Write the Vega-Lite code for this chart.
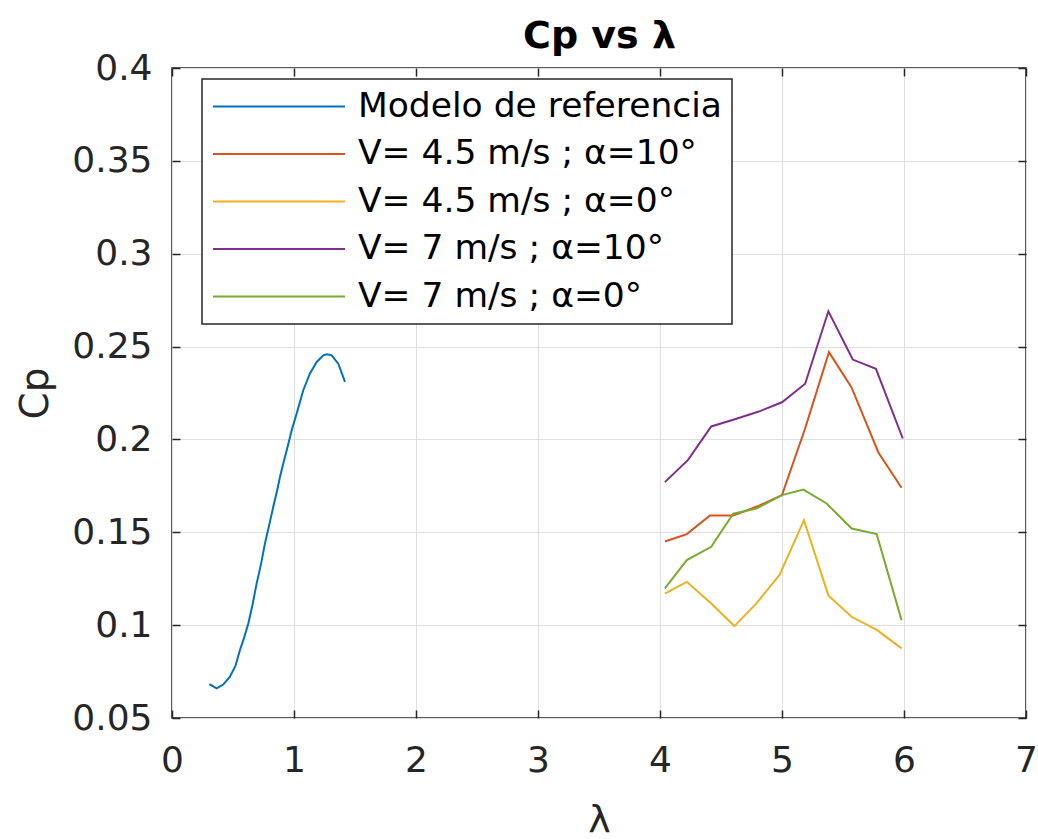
{
  "$schema": "https://vega.github.io/schema/vega-lite/v6.json",
  "autosize": "none",
  "width": 854,
  "height": 650,
  "padding": {"left": 172, "top": 68, "right": 12, "bottom": 121},
  "background": "white",
  "config": {
    "font": "DejaVu Sans",
    "view": {"stroke": "#262626", "strokeWidth": 1.5},
    "legend": {"strokeWidth": 1.5},
    "axis": {
      "domain": false,
      "gridColor": "#dfdfdf",
      "gridWidth": 1,
      "tickColor": "#262626",
      "tickSize": -8,
      "tickWidth": 1.5,
      "labelColor": "#262626",
      "labelFontSize": 36,
      "labelFont": "DejaVu Sans",
      "labelOverlap": false,
      "labelFlush": false,
      "titleColor": "#262626",
      "titleFont": "DejaVu Sans",
      "titleFontWeight": "normal",
      "titleFontSize": 39
    }
  },
  "data": {
    "values": [
      {"lambda": 0.306, "cp": 0.0683, "serie": "Modelo de referencia"},
      {"lambda": 0.366, "cp": 0.066, "serie": "Modelo de referencia"},
      {"lambda": 0.42, "cp": 0.068, "serie": "Modelo de referencia"},
      {"lambda": 0.475, "cp": 0.0722, "serie": "Modelo de referencia"},
      {"lambda": 0.52, "cp": 0.078, "serie": "Modelo de referencia"},
      {"lambda": 0.557, "cp": 0.0866, "serie": "Modelo de referencia"},
      {"lambda": 0.59, "cp": 0.093, "serie": "Modelo de referencia"},
      {"lambda": 0.626, "cp": 0.101, "serie": "Modelo de referencia"},
      {"lambda": 0.66, "cp": 0.111, "serie": "Modelo de referencia"},
      {"lambda": 0.694, "cp": 0.1225, "serie": "Modelo de referencia"},
      {"lambda": 0.73, "cp": 0.133, "serie": "Modelo de referencia"},
      {"lambda": 0.762, "cp": 0.144, "serie": "Modelo de referencia"},
      {"lambda": 0.797, "cp": 0.154, "serie": "Modelo de referencia"},
      {"lambda": 0.83, "cp": 0.1637, "serie": "Modelo de referencia"},
      {"lambda": 0.86, "cp": 0.172, "serie": "Modelo de referencia"},
      {"lambda": 0.885, "cp": 0.1798, "serie": "Modelo de referencia"},
      {"lambda": 0.912, "cp": 0.187, "serie": "Modelo de referencia"},
      {"lambda": 0.94, "cp": 0.194, "serie": "Modelo de referencia"},
      {"lambda": 0.981, "cp": 0.205, "serie": "Modelo de referencia"},
      {"lambda": 1.022, "cp": 0.214, "serie": "Modelo de referencia"},
      {"lambda": 1.076, "cp": 0.2265, "serie": "Modelo de referencia"},
      {"lambda": 1.131, "cp": 0.2355, "serie": "Modelo de referencia"},
      {"lambda": 1.186, "cp": 0.2417, "serie": "Modelo de referencia"},
      {"lambda": 1.24, "cp": 0.2453, "serie": "Modelo de referencia"},
      {"lambda": 1.27, "cp": 0.2458, "serie": "Modelo de referencia"},
      {"lambda": 1.309, "cp": 0.2453, "serie": "Modelo de referencia"},
      {"lambda": 1.363, "cp": 0.2408, "serie": "Modelo de referencia"},
      {"lambda": 1.418, "cp": 0.231, "serie": "Modelo de referencia"},

      {"lambda": 4.04, "cp": 0.145, "serie": "V= 4.5 m/s ; α=10°"},
      {"lambda": 4.22, "cp": 0.149, "serie": "V= 4.5 m/s ; α=10°"},
      {"lambda": 4.41, "cp": 0.159, "serie": "V= 4.5 m/s ; α=10°"},
      {"lambda": 4.6, "cp": 0.159, "serie": "V= 4.5 m/s ; α=10°"},
      {"lambda": 4.8, "cp": 0.164, "serie": "V= 4.5 m/s ; α=10°"},
      {"lambda": 5.0, "cp": 0.17, "serie": "V= 4.5 m/s ; α=10°"},
      {"lambda": 5.19, "cp": 0.206, "serie": "V= 4.5 m/s ; α=10°"},
      {"lambda": 5.385, "cp": 0.247, "serie": "V= 4.5 m/s ; α=10°"},
      {"lambda": 5.57, "cp": 0.228, "serie": "V= 4.5 m/s ; α=10°"},
      {"lambda": 5.79, "cp": 0.193, "serie": "V= 4.5 m/s ; α=10°"},
      {"lambda": 5.98, "cp": 0.174, "serie": "V= 4.5 m/s ; α=10°"},

      {"lambda": 4.04, "cp": 0.117, "serie": "V= 4.5 m/s ; α=0°"},
      {"lambda": 4.22, "cp": 0.1233, "serie": "V= 4.5 m/s ; α=0°"},
      {"lambda": 4.42, "cp": 0.1117, "serie": "V= 4.5 m/s ; α=0°"},
      {"lambda": 4.61, "cp": 0.0995, "serie": "V= 4.5 m/s ; α=0°"},
      {"lambda": 4.79, "cp": 0.1117, "serie": "V= 4.5 m/s ; α=0°"},
      {"lambda": 4.98, "cp": 0.127, "serie": "V= 4.5 m/s ; α=0°"},
      {"lambda": 5.18, "cp": 0.1565, "serie": "V= 4.5 m/s ; α=0°"},
      {"lambda": 5.38, "cp": 0.116, "serie": "V= 4.5 m/s ; α=0°"},
      {"lambda": 5.57, "cp": 0.1045, "serie": "V= 4.5 m/s ; α=0°"},
      {"lambda": 5.78, "cp": 0.0973, "serie": "V= 4.5 m/s ; α=0°"},
      {"lambda": 5.98, "cp": 0.0875, "serie": "V= 4.5 m/s ; α=0°"},

      {"lambda": 4.04, "cp": 0.177, "serie": "V= 7 m/s ; α=10°"},
      {"lambda": 4.23, "cp": 0.189, "serie": "V= 7 m/s ; α=10°"},
      {"lambda": 4.42, "cp": 0.207, "serie": "V= 7 m/s ; α=10°"},
      {"lambda": 4.62, "cp": 0.211, "serie": "V= 7 m/s ; α=10°"},
      {"lambda": 4.81, "cp": 0.215, "serie": "V= 7 m/s ; α=10°"},
      {"lambda": 5.0, "cp": 0.22, "serie": "V= 7 m/s ; α=10°"},
      {"lambda": 5.19, "cp": 0.23, "serie": "V= 7 m/s ; α=10°"},
      {"lambda": 5.38, "cp": 0.269, "serie": "V= 7 m/s ; α=10°"},
      {"lambda": 5.58, "cp": 0.243, "serie": "V= 7 m/s ; α=10°"},
      {"lambda": 5.77, "cp": 0.238, "serie": "V= 7 m/s ; α=10°"},
      {"lambda": 5.99, "cp": 0.2005, "serie": "V= 7 m/s ; α=10°"},

      {"lambda": 4.04, "cp": 0.1198, "serie": "V= 7 m/s ; α=0°"},
      {"lambda": 4.22, "cp": 0.135, "serie": "V= 7 m/s ; α=0°"},
      {"lambda": 4.42, "cp": 0.1422, "serie": "V= 7 m/s ; α=0°"},
      {"lambda": 4.6, "cp": 0.16, "serie": "V= 7 m/s ; α=0°"},
      {"lambda": 4.79, "cp": 0.1628, "serie": "V= 7 m/s ; α=0°"},
      {"lambda": 5.0, "cp": 0.17, "serie": "V= 7 m/s ; α=0°"},
      {"lambda": 5.175, "cp": 0.173, "serie": "V= 7 m/s ; α=0°"},
      {"lambda": 5.366, "cp": 0.1655, "serie": "V= 7 m/s ; α=0°"},
      {"lambda": 5.571, "cp": 0.152, "serie": "V= 7 m/s ; α=0°"},
      {"lambda": 5.776, "cp": 0.149, "serie": "V= 7 m/s ; α=0°"},
      {"lambda": 5.98, "cp": 0.1027, "serie": "V= 7 m/s ; α=0°"}
    ]
  },
  "resolve": {"axis": {"x": "independent", "y": "independent"}},
  "layer": [
    {
      "mark": {"type": "line", "strokeWidth": 2, "interpolate": "linear"},
      "encoding": {
        "x": {
          "field": "lambda",
          "type": "quantitative",
          "scale": {"domain": [0, 7], "nice": false, "zero": false},
          "axis": {
            "orient": "bottom",
            "values": [0, 1, 2, 3, 4, 5, 6, 7],
            "format": "~g",
            "labelPadding": 33,
            "title": "λ",
            "titleX": 427,
            "titleY": 113,
            "titleFontSize": 38,
            "titleBaseline": "alphabetic",
            "titleAnchor": null
          }
        },
        "y": {
          "field": "cp",
          "type": "quantitative",
          "scale": {"domain": [0.05, 0.4], "nice": false, "zero": false},
          "axis": {
            "orient": "left",
            "values": [0.05, 0.1, 0.15, 0.2, 0.25, 0.3, 0.35, 0.4],
            "format": "~g",
            "labelPadding": 28,
            "title": "Cp",
            "titleAngle": -90,
            "titleX": -125,
            "titleY": 325,
            "titleAlign": "center",
            "titleBaseline": "alphabetic"
          }
        },
        "color": {
          "field": "serie",
          "type": "nominal",
          "scale": {
            "domain": ["Modelo de referencia", "V= 4.5 m/s ; α=10°", "V= 4.5 m/s ; α=0°", "V= 7 m/s ; α=10°", "V= 7 m/s ; α=0°"],
            "range": ["#0072BD", "#D95319", "#EDB120", "#7E2F8E", "#77AC30"]
          },
          "legend": {
            "orient": "none",
            "legendX": 30,
            "legendY": 11,
            "title": null,
            "symbolType": "stroke",
            "symbolSize": 17424,
            "symbolStrokeWidth": 2,
            "clipHeight": 35,
            "rowPadding": 11.5,
            "labelOffset": 12,
            "labelFontSize": 34.5,
            "labelFont": "DejaVu Sans",
            "labelColor": "#000000",
            "labelLimit": 800,
            "padding": 10,
            "strokeColor": "#262626",
            "fillColor": "#ffffff"
          }
        }
      }
    },
    {
      "mark": {"type": "point", "opacity": 0},
      "encoding": {
        "x": {
          "field": "lambda",
          "type": "quantitative",
          "axis": {
            "orient": "top",
            "values": [0, 1, 2, 3, 4, 5, 6, 7],
            "labels": false,
            "grid": false,
            "title": "Cp vs λ",
            "titleFontWeight": "bold",
            "titleFontSize": 38,
            "titleColor": "#000000",
            "titleX": 427,
            "titleY": -21,
            "titleAlign": "center",
            "titleBaseline": "alphabetic",
            "titleAnchor": null
          }
        },
        "y": {
          "field": "cp",
          "type": "quantitative",
          "axis": {"orient": "right", "values": [0.05, 0.1, 0.15, 0.2, 0.25, 0.3, 0.35, 0.4], "labels": false, "grid": false, "title": null}
        }
      }
    }
  ]
}
